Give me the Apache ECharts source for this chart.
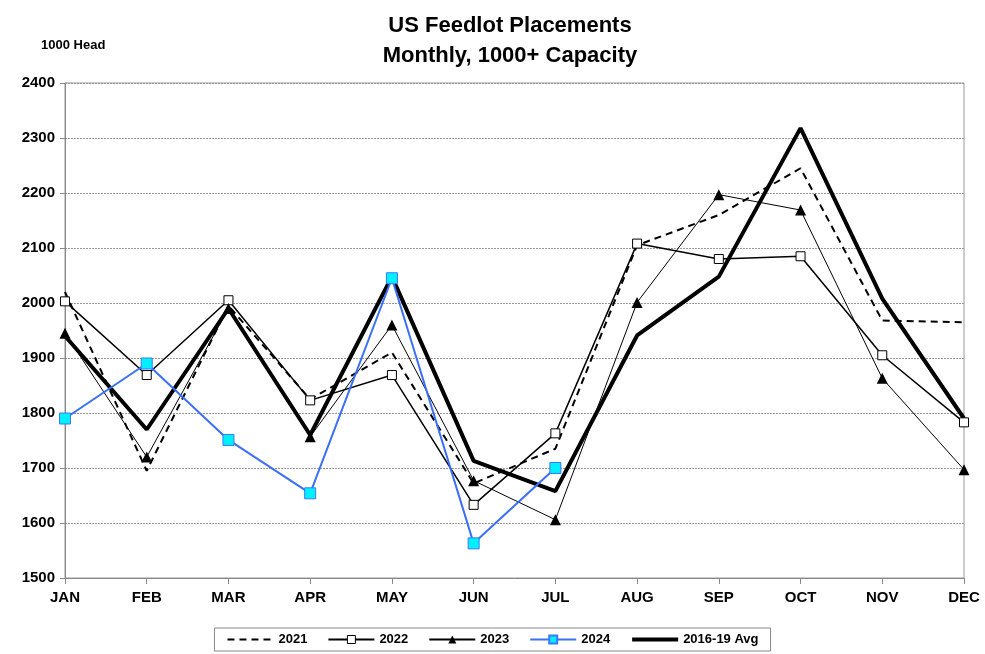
<!DOCTYPE html>
<html>
<head>
<meta charset="utf-8">
<script src="https://cdn.jsdelivr.net/npm/echarts@6/dist/echarts.min.js"></script>
<style>
  html, body { margin: 0; padding: 0; background: #fff; }
  #main { width: 985px; height: 654px; }
</style>
</head>
<body>
<div id="main"></div>
<script>
// month labels
var months = ['JAN', 'FEB', 'MAR', 'APR', 'MAY', 'JUN', 'JUL', 'AUG', 'SEP', 'OCT', 'NOV', 'DEC'];

// placements, 1000 head
var y2021 = [2020, 1695, 1995, 1825, 1910, 1672, 1735, 2105, 2160, 2245, 1968, 1965];
var y2022 = [2003, 1869, 2005, 1823, 1869, 1633, 1763, 2108, 2080, 2085, 1905, 1783];
var y2023 = [1945, 1720, 1990, 1757, 1960, 1677, 1606, 2001, 2197, 2169, 1863, 1697];
var y2024 = [1790, 1890, 1751, 1654, 2045, 1563, 1700];
var avg1619 = [1940, 1770, 1990, 1760, 2048, 1713, 1658, 1941, 2048, 2318, 2008, 1790];

var font = 'Liberation Sans, Arial, sans-serif';

var chart = echarts.init(document.getElementById('main'));

var option = {
  backgroundColor: '#ffffff',
  animation: false,
  title: [{
    text: 'US Feedlot Placements\nMonthly, 1000+ Capacity',
    left: 505,
    top: 6,
    textAlign: 'center',
    textStyle: { fontFamily: font, fontSize: 22, fontWeight: 'bold', color: '#000', lineHeight: 30 }
  }, {
    text: '1000 Head',
    left: 36,
    top: 34,
    textStyle: { fontFamily: font, fontSize: 13, fontWeight: 'bold', color: '#000' }
  }],
  grid: {
    left: 65, right: 21, top: 83, bottom: 76,
    show: true, borderColor: '#999', borderWidth: 1
  },
  legend: {
    bottom: 3,
    left: 'center',
    itemGap: 20,
    itemWidth: 46,
    itemHeight: 10,
    padding: [5, 12],
    borderColor: '#888',
    borderWidth: 1,
    textStyle: { fontFamily: font, fontSize: 13, fontWeight: 'bold', color: '#000' },
    data: [
      { name: '2021', itemStyle: { opacity: 0 } },
      { name: '2022', itemStyle: { borderWidth: 1 } },
      '2023',
      '2024',
      { name: '2016-19 Avg', itemStyle: { opacity: 0 }, lineStyle: { width: 4 } }
    ]
  },
  xAxis: {
    type: 'category',
    data: months,
    boundaryGap: false,
    axisLine: { lineStyle: { color: '#888', width: 1 } },
    axisTick: { show: true, length: 6, lineStyle: { color: '#888' } },
    axisLabel: { fontFamily: font, fontSize: 15, fontWeight: 'bold', color: '#000', margin: 12 }
  },
  yAxis: {
    type: 'value',
    min: 1500,
    max: 2400,
    interval: 100,
    axisLine: { show: true, lineStyle: { color: '#888', width: 1 } },
    axisTick: { show: true, length: 5, lineStyle: { color: '#888' } },
    axisLabel: {
      fontFamily: font, fontSize: 15, fontWeight: 'bold', color: '#000', margin: 10,
      formatter: function (v) { return String(v); }
    },
    splitLine: { lineStyle: { color: '#999', type: [2, 1], width: 1 } }
  },
  series: [{
    name: '2021',
    type: 'line',
    data: y2021,
    symbol: 'none',
    itemStyle: { color: '#000' },
    lineStyle: { color: '#000', width: 2, type: [7, 5] },
    z: 3
  }, {
    name: '2022',
    type: 'line',
    data: y2022,
    symbol: 'rect',
    symbolSize: 9,
    itemStyle: { color: '#fff', borderColor: '#000', borderWidth: 1 },
    lineStyle: { color: '#000', width: 1.5 },
    z: 4
  }, {
    name: '2023',
    type: 'line',
    data: y2023,
    symbol: 'triangle',
    symbolSize: 11,
    itemStyle: { color: '#000' },
    lineStyle: { color: '#000', width: 1 },
    z: 4
  }, {
    name: '2024',
    type: 'line',
    data: y2024,
    symbol: 'rect',
    symbolSize: 11,
    itemStyle: { color: '#00f0ff', borderColor: '#3a78ff', borderWidth: 1 },
    lineStyle: { color: '#3a6ff8', width: 2 },
    z: 5
  }, {
    name: '2016-19 Avg',
    type: 'line',
    data: avg1619,
    symbol: 'none',
    itemStyle: { color: '#000' },
    lineStyle: { color: '#000', width: 4 },
    z: 3
  }]
};

chart.setOption(option);
</script>
</body>
</html>
